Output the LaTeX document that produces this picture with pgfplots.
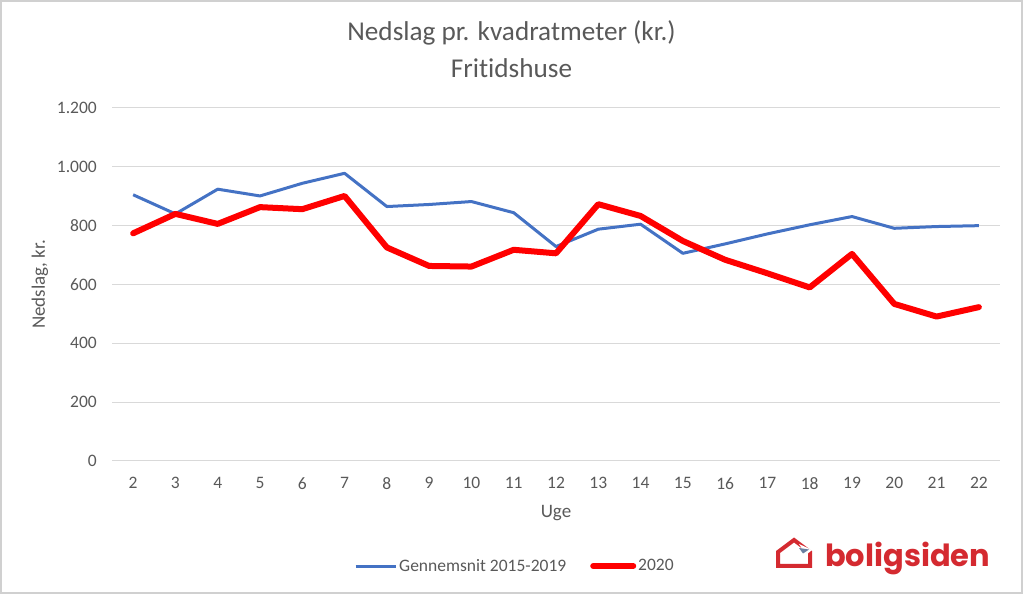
\documentclass[border=0pt]{standalone}
\usepackage{fontspec}
\setmainfont{Carlito}[Ligatures={NoCommon}]
\newfontfamily\logofont{Poppins}
\usepackage{pgfplots}
\pgfplotsset{compat=1.18}
\definecolor{txtgray}{HTML}{595959}
\definecolor{gridgray}{HTML}{D9D9D9}
\definecolor{serieblue}{HTML}{4472C4}
\definecolor{seriered}{HTML}{FF0000}
\definecolor{logored}{HTML}{D42A30}
\definecolor{logoblue}{HTML}{6A7FA0}
\definecolor{framegray}{HTML}{D0D0D0}
\begin{document}
\begin{tikzpicture}[x=1pt,y=1pt]
\path[use as bounding box] (0,0) rectangle (1024,596);
\draw[framegray, line width=2pt] (1,3) rectangle (1021.5,595);
\node[txtgray, font=\fontsize{27.2}{30}\selectfont] at (511.5,563) {Nedslag pr. kvadratmeter (kr.)};
\node[txtgray, font=\fontsize{27.2}{30}\selectfont] at (511.5,528) {Frit\kern0pt idshuse};
\begin{axis}[
  at={(112pt,135pt)}, anchor=south west,
  scale only axis, width=888pt, height=353pt,
  xmin=1.5, xmax=22.5, ymin=0, ymax=1200,
  xtick={2,...,22}, ytick={0,200,...,1200},
  axis line style={draw=none},
  major tick length=0pt,
  ymajorgrids,
  major grid style={color=gridgray, line width=1pt},
  clip=false,
  /pgf/number format/assume math mode=true,
  /pgf/number format/1000 sep={.},
  ticklabel style={font=\fontsize{17.5}{20}\selectfont, text=txtgray, inner sep=0pt},
  yticklabel style={anchor=east, xshift=-15pt},
  xticklabel style={anchor=north, yshift=-16pt},
  xlabel={Uge}, ylabel={Nedslag, kr.},
  label style={font=\fontsize{19}{22}\selectfont, text=txtgray},
  xlabel style={at={(axis description cs:0.5,-0.147)}, anchor=center},
  ylabel style={at={(axis description cs:-0.0811,0.5)}, anchor=center},
  legend columns=2,
  legend image code/.code={\draw[#1] (0pt,0pt) -- (40pt,0pt);},
  legend style={at={(axis description cs:0.4538,-0.2975)}, anchor=center, draw=none,
    fill=none, font=\fontsize{17.5}{20}\selectfont, text=txtgray,
    nodes={inner sep=2pt},
    /tikz/every even column/.append style={column sep=22pt}},
]
\addplot[serieblue, line width=3pt, line join=round] coordinates {
(2,905) (3,840) (4,924) (5,901) (6,944) (7,978) (8,865) (9,872) (10,882) (11,844)
(12,729) (13,788) (14,805) (15,706) (16,738) (17,772) (18,803) (19,831) (20,791) (21,797) (22,800)};
\addlegendentry{Gennemsnit 2015-2019}
\addplot[seriered, line width=6pt, line join=round, line cap=round] coordinates {
(2,774) (3,840) (4,806) (5,863) (6,856) (7,901) (8,726) (9,663) (10,661) (11,718)
(12,706) (13,873) (14,833) (15,748) (16,684) (17,638) (18,590) (19,704) (20,534) (21,491) (22,523)};
\addlegendentry{2020}
\end{axis}
% logo
\draw[logored, line width=4pt, line join=miter] (778,30) -- (778,44) -- (794,56) -- (810,44) -- (810,30) -- cycle;
\fill[white] (799,52) -- (812,46) -- (806,41) -- cycle;
\fill[logoblue] (799,48) -- (809,46.5) -- (803,42.5) -- cycle;
\node[logored, font=\logofont\bfseries\fontsize{30.5}{34}\selectfont, anchor=base west, inner sep=0pt] at (825,29) {boligsiden};
\end{tikzpicture}
\end{document}
